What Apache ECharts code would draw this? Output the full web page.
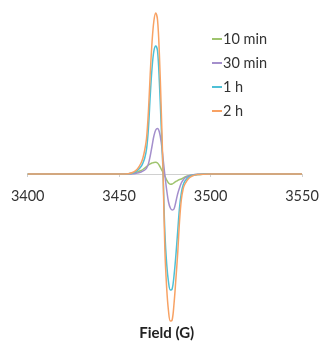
<!DOCTYPE html>
<html>
<head>
<meta charset="utf-8">
<script src="https://cdn.jsdelivr.net/npm/echarts@6/dist/echarts.min.js"></script>
<style>
html,body{margin:0;padding:0;background:#fff;}
#chart{width:321px;height:342px;}
</style>
</head>
<body>
<div id="chart"></div>
<script>
var fieldG = [3400,3440,3450,3455,3458,3460,3462,3463,3464,3465,3466,3467,3468,3469,3470,3471,3472,3473,3474,3475,3476,3477,3478,3479,3480,3481,3482,3483,3484,3485,3486,3488,3490,3493,3496,3500,3510,3550];
var min10 = [0,0,0,0.3,1,2,3.5,4.5,6,7.5,9,10.2,11,11.6,11.7,11,8.5,5,1.5,-2,-6,-9,-10.2,-10,-8.8,-7.5,-6.5,-5.5,-5,-4,-3,-1.8,-1,-0.5,-0.2,0,0,0];
var min30 = [0,0,0,0,0.3,1,2,3,4,6,10,18,28,38,44,45.5,42,32,16,-1,-16,-28,-34,-36,-35,-28,-20,-14,-9,-6,-4,-2,-1,-0.3,0,0,0,0];
var h1 = [0,0,0,0.2,1.2,3.5,7.5,11,16,25,45,78,106,123,128,123,92,48,2,-58,-90,-108,-116,-115,-102,-82,-58,-34,-19,-11,-7,-3,-1.4,-0.4,-0.1,0,0,0];
var h2 = [0,0,0,0.3,2,5,11,16,24,36,62,100,132,153,161,154,120,66,3,-75,-114,-137,-147,-146,-130,-106,-80,-48,-26,-15,-10,-4.5,-2,-0.6,-0.2,0,0,0];
var seriesNames = ['10 min','30 min','1 h','2 h'];
var seriesColors = ['#9fc46e','#a48fcc','#4ec0d6','#f8a264'];
var seriesValues = [min10, min30, h1, h2];
var xTicks = {min:3400, max:3550, interval:50};

var chart = echarts.init(document.getElementById('chart'));
chart.setOption({
  animation:false,
  backgroundColor:'#ffffff',
  grid:{left:27.7, right:19, top:9, bottom:168, containLabel:false, outerBoundsMode:'none'},
  legend:{
    orient:'vertical', left:207, top:26, itemWidth:10, itemHeight:2, icon:'rect', itemGap:8,
    textStyle:{fontFamily:'Lato', fontSize:14.5, color:'#333', lineHeight:16, padding:[0,0,0,-4]},
    data:seriesNames
  },
  xAxis:{
    type:'value', min:xTicks.min, max:xTicks.max, interval:xTicks.interval,
    axisLine:{onZero:false, lineStyle:{color:'#d0d0d0', width:1}},
    axisTick:{show:true, length:3, lineStyle:{color:'#d0d0d0'}},
    axisLabel:{fontFamily:'Lato', fontSize:14.5, color:'#333', margin:15, formatter:function(v){return String(v);}},
    splitLine:{show:false}
  },
  yAxis:{
    type:'value', min:0, max:165, show:false,
    axisLine:{show:false}, splitLine:{show:false}
  },
  graphic:[{
    type:'text', x:166.7, y:333,
    style:{text:'Field (G)', fontFamily:'Lato', fontSize:15, fontWeight:'bold', fill:'#222', align:'center', verticalAlign:'middle'}
  }],
  series:seriesValues.map(function(vals, k){
    return {
      name:seriesNames[k], type:'line', smooth:0.35, symbol:'none', clip:false,
      lineStyle:{width:1.5, color:seriesColors[k]},
      itemStyle:{color:seriesColors[k]},
      data:fieldG.map(function(g,i){return [g, vals[i]];})
    };
  })
});
</script>
</body>
</html>
